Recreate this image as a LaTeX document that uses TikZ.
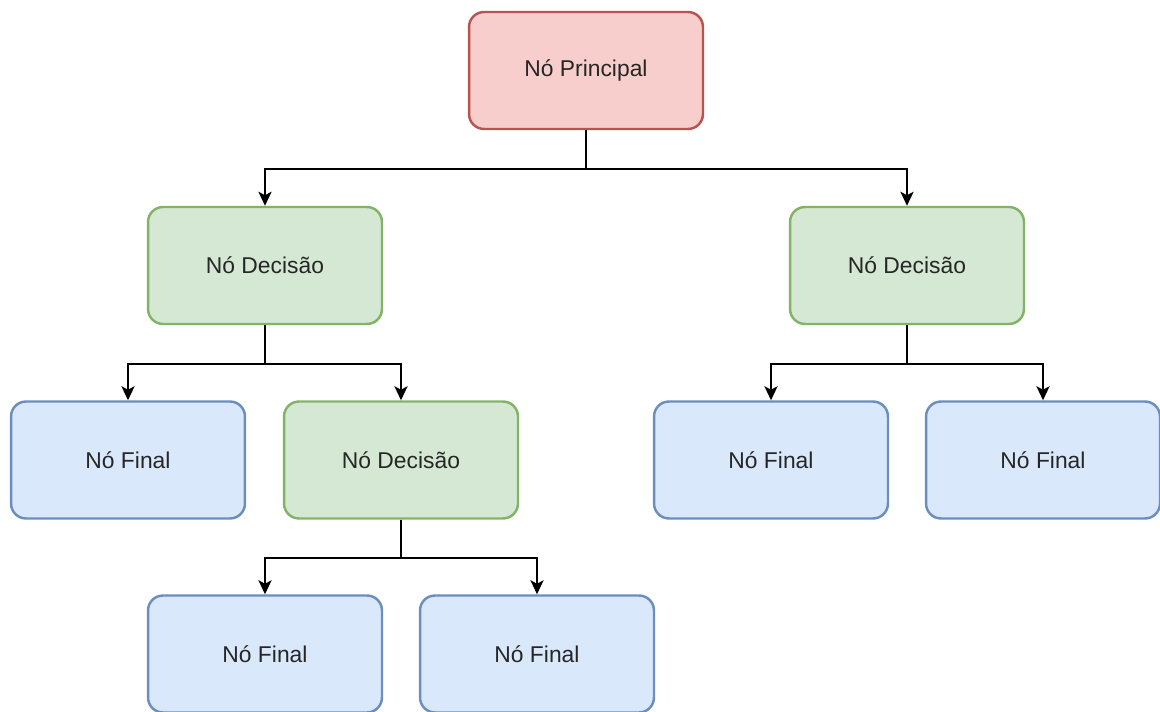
\documentclass[tikz,border=0pt]{standalone}
\usepackage{fontspec}
\setmainfont{Liberation Sans}
\usepackage{tikz}
\usetikzlibrary{arrows.meta,positioning}

\begin{document}
\begin{tikzpicture}[x=0.02cm,y=-0.02cm,
	box/.style={draw,rounded corners=0.3cm,line width=1.4pt,minimum width=4.68cm,minimum height=2.34cm,font=\fontsize{13}{15}\selectfont,text=black!85},
	principal/.style={box,fill={rgb,255:red,248;green,206;blue,204},draw={rgb,255:red,184;green,84;blue,80}},
	decisao/.style={box,fill={rgb,255:red,213;green,232;blue,212},draw={rgb,255:red,130;green,179;blue,102}},
	final/.style={box,fill={rgb,255:red,218;green,232;blue,252},draw={rgb,255:red,108;green,142;blue,191}},
	seta/.style={draw,line width=0.9pt,-{Stealth[length=8pt,width=7.5pt,inset=2pt]}}]
	\useasboundingbox (0,0) rectangle (1160,712);
	\node[principal] (raiz) at (586,70.5) {Nó Principal};
	\node[decisao] (decA) at (265,265.5) {Nó Decisão};
	\node[decisao] (decB) at (907,265.5) {Nó Decisão};
	\node[final] (finA) at (128,460) {Nó Final};
	\node[decisao] (decC) at (401,460) {Nó Decisão};
	\node[final] (finB) at (771,460) {Nó Final};
	\node[final] (finC) at (1043,460) {Nó Final};
	\node[final] (finD) at (265,654) {Nó Final};
	\node[final] (finE) at (537,654) {Nó Final};
	% ligacoes
	\draw[seta] (raiz.south) -- ++(0,38.5) -| (decA.north);
	\draw[seta] (raiz.south) -- ++(0,38.5) -| (decB.north);
	\draw[seta] (decA.south) -- ++(0,38.5) -| (finA.north);
	\draw[seta] (decA.south) -- ++(0,38.5) -| (decC.north);
	\draw[seta] (decB.south) -- ++(0,38.5) -| (finB.north);
	\draw[seta] (decB.south) -- ++(0,38.5) -| (finC.north);
	\draw[seta] (decC.south) -- ++(0,38.5) -| (finD.north);
	\draw[seta] (decC.south) -- ++(0,38.5) -| (finE.north);
\end{tikzpicture}
\end{document}
